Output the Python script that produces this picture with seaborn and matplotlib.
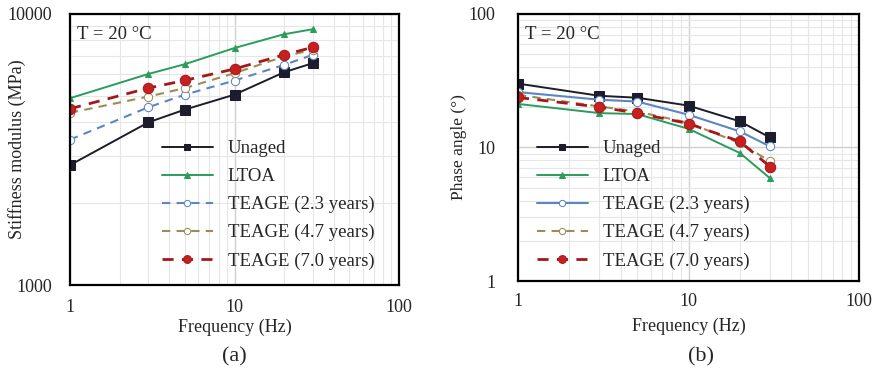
import numpy as np
import pandas as pd
import matplotlib
matplotlib.use("Agg")
import matplotlib.pyplot as plt
import seaborn as sns
from matplotlib.ticker import LogLocator, FixedLocator, NullFormatter

sns.set_theme(style="white")
plt.rcParams['font.family'] = ['Liberation Serif', 'DejaVu Serif']

freq = [1, 3, 5, 10, 20, 30]
series_names = ["Unaged", "LTOA", "TEAGE (2.3 years)", "TEAGE (4.7 years)", "TEAGE (7.0 years)"]

stiff_unaged = [2770, 3985, 4440, 5040, 6095, 6590]
stiff_ltoa = [4890, 6010, 6530, 7490, 8420, 8790]
stiff_t23 = [3440, 4530, 5040, 5680, 6490, 7070]
stiff_t47 = [4320, 4960, 5330, 6050, 6970, 7380]
stiff_t70 = [4470, 5330, 5690, 6270, 7070, 7540]

phase_unaged = [30.1, 24.4, 23.6, 20.6, 15.7, 11.9]
phase_ltoa = [21.2, 18.1, 17.8, 13.8, 9.1, 5.9]
phase_t23 = [26.0, 22.8, 22.1, 17.6, 13.2, 10.2]
phase_t47 = [24.8, 20.3, 18.6, 15.3, 10.8, 7.9]
phase_t70 = [23.7, 20.1, 18.1, 15.1, 11.1, 7.2]

colors = {"Unaged": "#1c1c2c", "LTOA": "#2a9d5c", "TEAGE (2.3 years)": "#5b86c4",
          "TEAGE (4.7 years)": "#9c8c5a", "TEAGE (7.0 years)": "#a31818"}
markers = {"Unaged": "s", "LTOA": "^", "TEAGE (2.3 years)": "o",
           "TEAGE (4.7 years)": "o", "TEAGE (7.0 years)": "o"}
msize = {"Unaged": 6.5, "LTOA": 5, "TEAGE (2.3 years)": 6,
         "TEAGE (4.7 years)": 6, "TEAGE (7.0 years)": 7.5}
mfc = {"Unaged": "#1c1c2c", "LTOA": "#2a9d5c", "TEAGE (2.3 years)": "white",
       "TEAGE (4.7 years)": "white", "TEAGE (7.0 years)": "#c82020"}


def make_df(vals):
    rows = []
    for name, v in zip(series_names, vals):
        for f, y in zip(freq, v):
            rows.append({"Frequency": f, "Value": y, "Series": name})
    return pd.DataFrame(rows)


df_a = make_df([stiff_unaged, stiff_ltoa, stiff_t23, stiff_t47, stiff_t70])
df_b = make_df([phase_unaged, phase_ltoa, phase_t23, phase_t47, phase_t70])

W, H = 876, 373
fig = plt.figure(figsize=(W / 100, H / 100), dpi=100)


def px_axes(x0, x1, y0, y1):
    return fig.add_axes([x0 / W, 1 - y1 / H, (x1 - x0) / W, (y1 - y0) / H])


ax1 = px_axes(70, 399, 14, 285)
ax2 = px_axes(518, 859, 14, 281)

dash_a = {"Unaged": None, "LTOA": None, "TEAGE (2.3 years)": (4, 3),
          "TEAGE (4.7 years)": (4, 3), "TEAGE (7.0 years)": (4, 3)}
dash_b = {"Unaged": None, "LTOA": None, "TEAGE (2.3 years)": None,
          "TEAGE (4.7 years)": (4, 3), "TEAGE (7.0 years)": (4, 3)}


def draw(ax, df, dashes):
    for name in series_names:
        sub = df[df["Series"] == name]
        d = dashes[name]
        ls = "-" if d is None else (0, d)
        lw = 1.4 if name in ("Unaged", "LTOA") else 1.5
        if name == "TEAGE (7.0 years)":
            lw = 2.0
        sns.lineplot(data=sub, x="Frequency", y="Value", ax=ax, color=colors[name],
                     marker=markers[name], markersize=msize[name],
                     markerfacecolor=mfc[name], markeredgecolor=colors[name],
                     linewidth=lw, linestyle=ls, label=name, legend=False,
                     errorbar=None)


draw(ax1, df_a, dash_a)
draw(ax2, df_b, dash_b)

for ax in (ax1, ax2):
    ax.set_xscale("log")
    ax.set_yscale("log")
    ax.set_xlim(1, 100)
    ax.xaxis.set_major_locator(FixedLocator([1, 10, 100]))
    ax.xaxis.set_minor_locator(LogLocator(base=10, subs=np.arange(2, 10)))
    ax.xaxis.set_minor_formatter(NullFormatter())
    ax.yaxis.set_minor_locator(LogLocator(base=10, subs=np.arange(2, 10)))
    ax.yaxis.set_minor_formatter(NullFormatter())
    ax.grid(True, which="minor", color="#e6e6e6", linewidth=0.8)
    ax.grid(True, which="major", color="#d0d0d0", linewidth=1.0)
    ax.tick_params(which="both", length=0, labelsize=13)
    ax.tick_params(axis="y", pad=13)
    ax.tick_params(axis="x", pad=10)
    for s in ax.spines.values():
        s.set_color("black")
        s.set_linewidth(1.6)
    ax.set_xlabel("Frequency (Hz)", fontsize=13)
    ax.text(0.02, 0.955, "T = 20 °C", transform=ax.transAxes, fontsize=13.5,
            va="top", ha="left")
    ax.set_axisbelow(True)

ax1.set_ylim(1000, 10000)
ax1.yaxis.set_major_locator(FixedLocator([1000, 10000]))
ax1.set_yticklabels(["1000", "10000"])
ax1.set_xticklabels(["1", "10", "100"])
ax1.set_ylabel("Stiffness modulus (MPa)", fontsize=13)
ax1.yaxis.set_label_coords((26 - 70) / 329, 0.5)
ax1.xaxis.set_label_coords(0.5, -(319 - 285) / 271)

ax2.set_ylim(1, 100)
ax2.yaxis.set_major_locator(FixedLocator([1, 10, 100]))
ax2.set_yticklabels(["1", "10", "100"])
ax2.set_xticklabels(["1", "10", "100"])
ax2.set_ylabel("Phase angle (°)", fontsize=12.5)
ax2.yaxis.set_label_coords((467 - 518) / 341, 0.5)
ax2.xaxis.set_label_coords(0.5, -(318 - 281) / 267)
ax2.tick_params(axis="x", pad=9)
ax2.tick_params(axis="y", pad=16)

leg_kw = dict(frameon=False, fontsize=13.5, handlelength=2.7, labelspacing=0.58,
              handletextpad=0.8, borderaxespad=0, borderpad=0, markerscale=0.75)
ax1.legend(loc="upper left", bbox_to_anchor=((162 - 70) / 329, (285 - 140) / 271), **leg_kw)
ax2.legend(loc="upper left", bbox_to_anchor=((537 - 518) / 341, (281 - 140) / 267), **leg_kw)

fig.text(234 / W, 1 - 357 / H, "(a)", fontsize=16, ha="center", va="center")
fig.text(701 / W, 1 - 357 / H, "(b)", fontsize=16, ha="center", va="center")

fig.savefig("out.png", dpi=100)
